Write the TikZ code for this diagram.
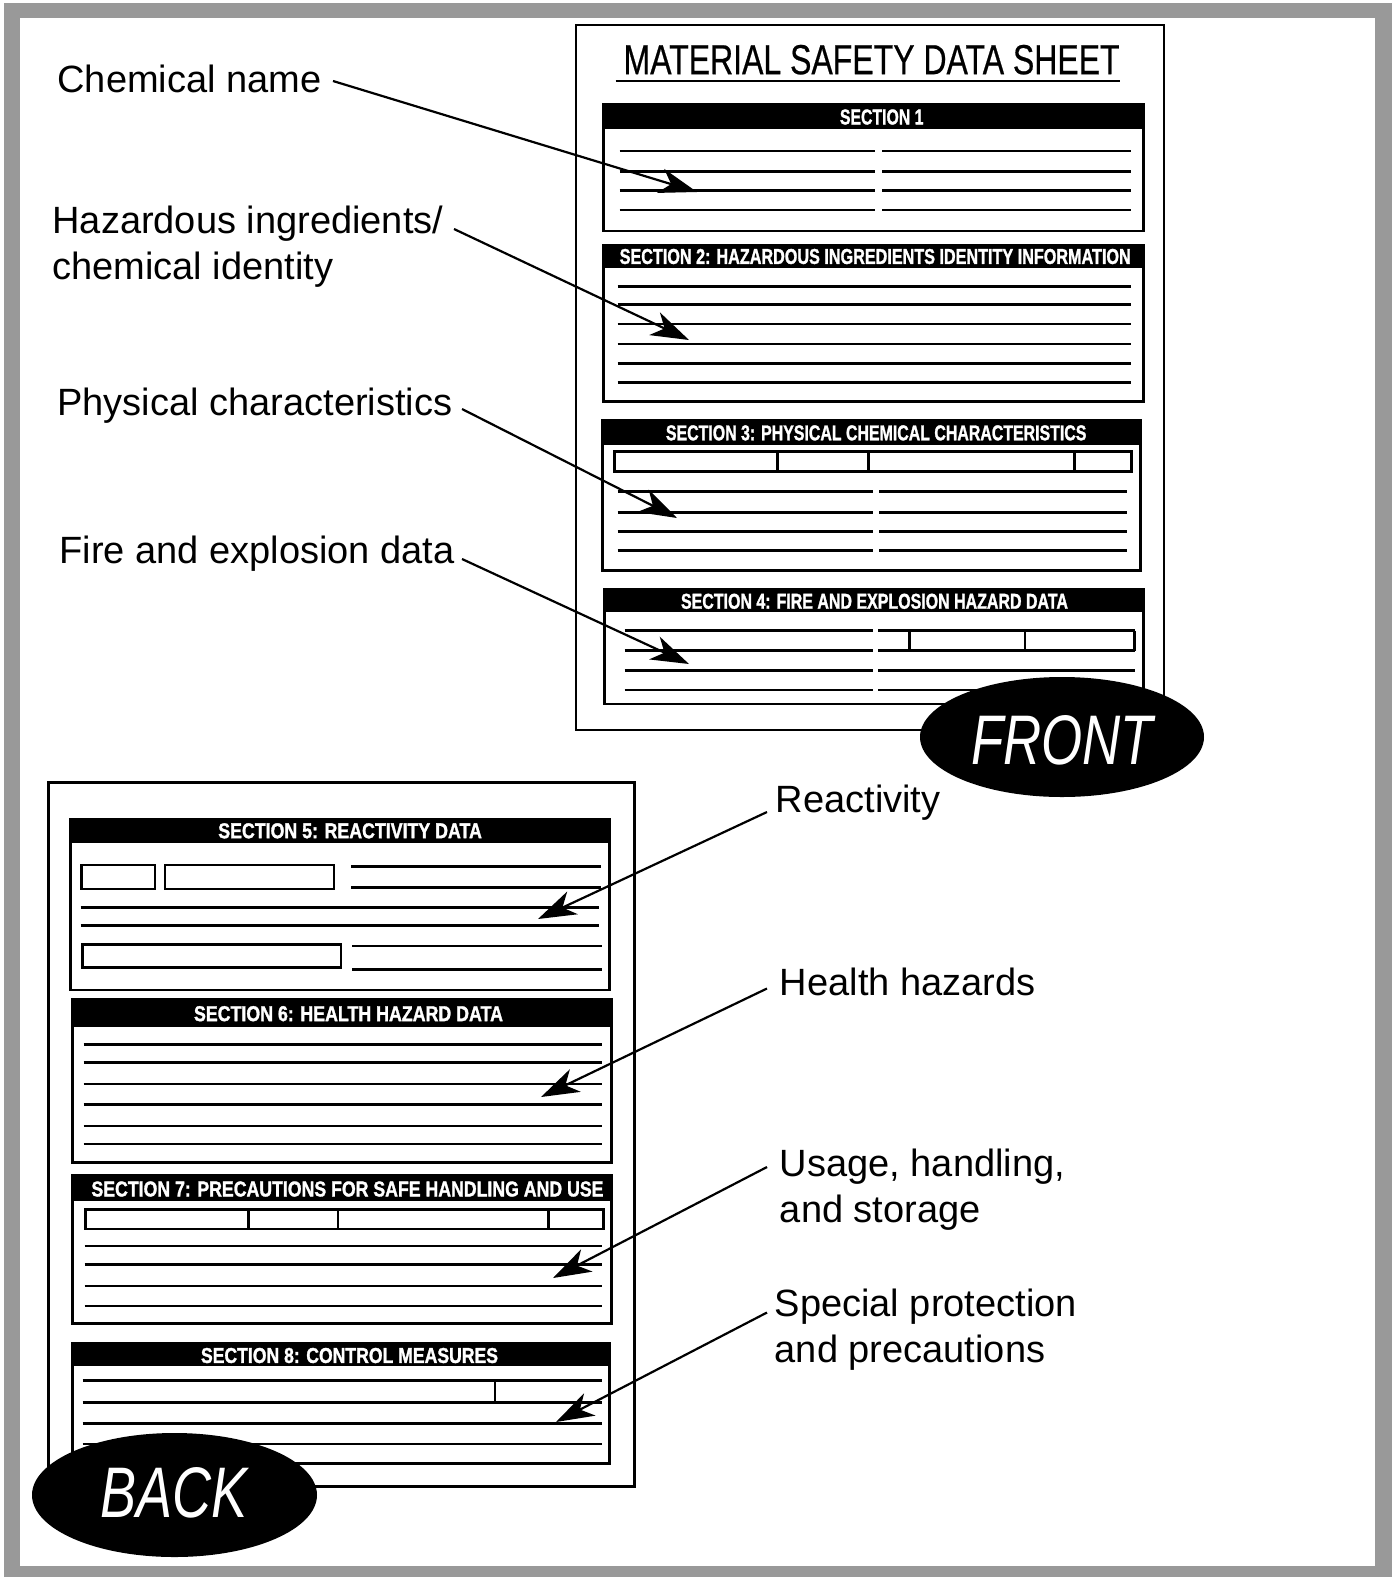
\documentclass[tikz,border=0pt]{standalone}
\usepackage{fontspec}
\setmainfont{Liberation Sans}
\newfontfamily\hdrfont[FakeBold=1.6]{Liberation Sans Bold}
\newfontfamily\ttlfont[FakeBold=0.6]{Liberation Sans}
\usepackage{graphicx}
\usetikzlibrary{arrows.meta}
\definecolor{framegray}{RGB}{153,153,153}
\newcommand{\hdrtxt}[2]{\resizebox{#1pt}{15pt}{\hdrfont #2}}
\begin{document}
\begin{tikzpicture}[x=1pt,y=-1pt,
  frm/.style={draw=black,line width=2.8pt},
  hdrbar/.style={fill=black,draw=black,line width=2.8pt},
  rl/.style={line width=2.7pt},
  hdr/.style={text=white,inner sep=0pt,anchor=center},
  lab/.style={anchor=base west,inner sep=0pt,align=left,font=\fontsize{38}{46.3}\selectfont},
  arr/.style={line width=2.2pt,-{Stealth[length=38pt,width=25pt,inset=11pt]}},
  badgetext/.style={text=white,inner sep=0pt,anchor=center}]
\useasboundingbox (0,0) rectangle (1395,1577);
\fill[white] (0,0) rectangle (1395,1577);
% gray frame
\fill[framegray] (4,3) rectangle (1392,1577);
\fill[white] (20,18) rectangle (1375,1566);

% ================= FRONT SHEET =================
\draw[frm,fill=white] (576,25) rectangle (1164,730);
\node[inner sep=0pt] (title) at (871.6,59.7) {\resizebox{496pt}{29.3pt}{\ttlfont MATERIAL SAFETY DATA SHEET}};
\draw[line width=2.8pt] (615.6,81) -- (1119.6,81);

% Section 1
\draw[frm] (603.6,104.3) rectangle (1143.8,231);
\draw[hdrbar] (603.6,104.3) rectangle (1143.8,128);
\node[hdr] (h1) at (881.7,117) {\hdrtxt{83.5}{SECTION 1}};
\foreach \y in {151,171.7,190.7,210}{
  \draw[rl] (619.7,\y) -- (875.2,\y);
  \draw[rl] (882.2,\y) -- (1130.7,\y);}

% Section 2
\draw[frm] (603.6,245.3) rectangle (1143.8,401.5);
\draw[hdrbar] (603.6,245.3) rectangle (1143.8,267);
\node[hdr] (h2) at (875.2,256.5) {\hdrtxt{511}{SECTION 2: HAZARDOUS INGREDIENTS IDENTITY INFORMATION}};
\foreach \y in {286.7,304.3,324,344,363.3,382.3}{
  \draw[rl] (617.7,\y) -- (1130.7,\y);}

% Section 3
\draw[frm] (602.6,420.7) rectangle (1140.6,570.7);
\draw[hdrbar] (602.6,420.7) rectangle (1140.6,443.3);
\node[hdr] (h3) at (876.2,432.9) {\hdrtxt{420.5}{SECTION 3: PHYSICAL CHEMICAL CHARACTERISTICS}};
\draw[rl] (614.6,451.7) rectangle (1131.7,471.7);
\foreach \x in {777.6,868.2,1074.4}{\draw[rl] (\x,451.7) -- (\x,471.7);}
\foreach \y in {491.7,512.3,531.7,550.7}{
  \draw[rl] (617.7,\y) -- (873.2,\y);
  \draw[rl] (879.2,\y) -- (1126.7,\y);}

% Section 4
\draw[frm] (604.6,589) rectangle (1143.8,704);
\draw[hdrbar] (604.6,589) rectangle (1143.8,610.7);
\node[hdr] (h4) at (874.5,601.3) {\hdrtxt{387}{SECTION 4: FIRE AND EXPLOSION HAZARD DATA}};
\foreach \y in {630.7,650.7,670.7,690}{
  \draw[rl] (624.7,\y) -- (873.2,\y);
  \draw[rl] (878.2,\y) -- (1134.7,\y);}
\foreach \x in {909.4,1025.1,1134.7}{\draw[rl] (\x,630.7) -- (\x,650.7);}

% FRONT badge
\fill[black] (1062,737) ellipse [x radius=142pt,y radius=60pt];
\node[badgetext] (front) at (1062,740) {\resizebox{182pt}{49pt}{\itshape FRONT}};

% ================= BACK SHEET =================
\draw[frm,fill=white] (48.3,782.7) rectangle (634.8,1486.7);

% Section 5
\draw[frm] (70.4,819.3) rectangle (609.6,990);
\draw[hdrbar] (70.4,819.3) rectangle (609.6,841.7);
\node[hdr] (h5) at (350.1,830.8) {\hdrtxt{263.6}{SECTION 5: REACTIVITY DATA}};
\draw[rl] (81.5,865) rectangle (154.9,889);
\draw[rl] (165,865) rectangle (334,889);
\draw[rl] (351,866.7) -- (600.6,866.7);
\draw[rl] (351,887.3) -- (600.6,887.3);
\draw[rl] (80.5,907.3) -- (598.6,907.3);
\draw[rl] (80.5,925.7) -- (598.6,925.7);
\draw[rl] (82.5,944.3) rectangle (341,967.3);
\draw[rl] (352,946) -- (601.6,946);
\draw[rl] (352,969.3) -- (601.6,969.3);

% Section 6
\draw[frm] (72.4,999.3) rectangle (611.6,1162.3);
\draw[hdrbar] (72.4,999.3) rectangle (611.6,1026);
\node[hdr] (h6) at (348.5,1013.7) {\hdrtxt{309}{SECTION 6: HEALTH HAZARD DATA}};
\foreach \y in {1044.3,1062.3,1084,1104.3,1126,1144}{
  \draw[rl] (83.5,\y) -- (601.6,\y);}

% Section 7
\draw[frm] (72.4,1175) rectangle (611.6,1323.3);
\draw[hdrbar] (72.4,1175) rectangle (611.6,1199.3);
\node[hdr] (h7) at (347.5,1189) {\hdrtxt{512}{SECTION 7: PRECAUTIONS FOR SAFE HANDLING AND USE}};
\draw[rl] (85.5,1209.3) rectangle (603.6,1229);
\foreach \x in {248.5,338,548.3}{\draw[rl] (\x,1209.3) -- (\x,1229);}
\foreach \y in {1246,1264.3,1286,1306}{
  \draw[rl] (84.5,\y) -- (601.6,\y);}

% Section 8
\draw[frm] (72.4,1343.3) rectangle (609.6,1463.3);
\draw[hdrbar] (72.4,1343.3) rectangle (609.6,1364.7);
\node[hdr] (h8) at (349.5,1355.5) {\hdrtxt{297}{SECTION 8: CONTROL MEASURES}};
\foreach \y in {1380.7,1402.3,1423.3,1444}{
  \draw[rl] (82.5,\y) -- (601.6,\y);}
\draw[rl] (495,1380.7) -- (495,1402.3);

% BACK badge
\fill[black] (174.5,1495) ellipse [x radius=142.5pt,y radius=62pt];
\node[badgetext] (back) at (174,1493.3) {\resizebox{147pt}{50pt}{\itshape BACK}};

% ================= LABELS =================
\node[lab] (lab1) at (57.3,92) {Chemical name};
\node[lab] (lab2) at (52.3,279.3) {Hazardous ingredients/\\chemical identity};
\node[lab] (lab3) at (57.3,415) {Physical characteristics};
\node[lab] (lab4) at (59.4,563) {Fire and explosion data};
\node[lab] (lab5) at (775.6,812) {Reactivity};
\node[lab] (lab6) at (779.7,995) {Health hazards};
\node[lab] (lab7) at (779.7,1222.8) {Usage, handling,\\and storage};
\node[lab] (lab8) at (774.6,1362.8) {Special protection\\and precautions};

% ================= ARROWS =================
\coordinate (s1) at (333,81);   \coordinate (t1) at (697,192);
\coordinate (s2) at (454,229);  \coordinate (t2) at (689,340);
\coordinate (s3) at (462,409);  \coordinate (t3) at (677,518);
\coordinate (s4) at (462,559);  \coordinate (t4) at (689,664);
\coordinate (s5) at (767,812);  \coordinate (t5) at (538,919);
\coordinate (s6) at (767,988.5);  \coordinate (t6) at (541,1097);
\coordinate (s7) at (767,1167); \coordinate (t7) at (553,1278);
\coordinate (s8) at (767,1312.5); \coordinate (t8) at (556,1422);
\foreach \i in {1,...,8}{\draw[arr] (s\i) -- (t\i);}
\end{tikzpicture}
\end{document}
